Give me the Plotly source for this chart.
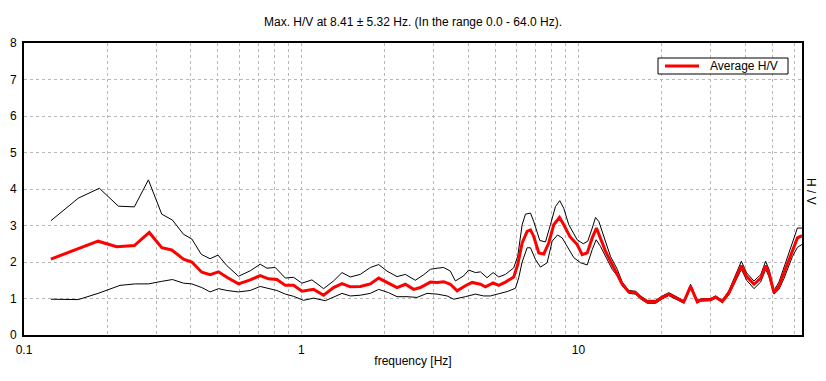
import plotly.graph_objects as go

# ---------------- data ----------------
freq_avg = [0.125, 0.185, 0.216, 0.250, 0.283, 0.314, 0.341, 0.376, 0.403, 0.438,
            0.469, 0.503, 0.539, 0.594, 0.655, 0.711, 0.762, 0.817, 0.876, 0.938,
            1.006, 1.108, 1.204, 1.308, 1.403, 1.503, 1.633, 1.775, 1.902, 2.039,
            2.216, 2.374, 2.543, 2.689, 2.923, 3.090, 3.264, 3.451, 3.649, 3.909,
            4.133, 4.429, 4.617, 4.922, 5.156, 5.452, 5.840, 6.038, 6.263, 6.528,
            6.711, 6.897, 7.191, 7.496, 7.811, 8.141, 8.539, 8.850, 9.304, 9.892,
            10.31, 10.75, 11.21, 11.61, 12.07, 12.51, 13.05, 13.60, 14.38, 15.19,
            16.06, 16.74, 17.70, 18.97, 20.05, 21.18, 22.39, 23.99, 25.37, 26.82,
            27.56, 29.96, 31.23, 33.02, 34.89, 36.89, 38.68, 40.42, 42.95, 45.39,
            47.33, 48.64, 50.71, 52.86, 55.11, 59.10, 61.60, 64.0]
hv_avg = [2.08, 2.57, 2.42, 2.45, 2.81, 2.39, 2.33, 2.08, 2.00, 1.72,
          1.65, 1.73, 1.58, 1.40, 1.51, 1.63, 1.54, 1.52, 1.36, 1.36,
          1.20, 1.25, 1.09, 1.30, 1.41, 1.32, 1.33, 1.40, 1.56, 1.44,
          1.30, 1.39, 1.25, 1.30, 1.45, 1.44, 1.46, 1.39, 1.21, 1.35,
          1.44, 1.39, 1.32, 1.43, 1.36, 1.45, 1.59, 1.93, 2.52, 2.84,
          2.88, 2.70, 2.25, 2.22, 2.52, 3.02, 3.22, 3.02, 2.70, 2.48,
          2.20, 2.25, 2.66, 2.93, 2.61, 2.30, 2.02, 1.75, 1.39, 1.18,
          1.16, 1.03, 0.91, 0.91, 1.03, 1.12, 1.03, 0.91, 1.33, 0.91,
          0.96, 0.97, 1.04, 0.92, 1.16, 1.57, 1.90, 1.60, 1.39, 1.55,
          1.90, 1.70, 1.16, 1.34, 1.71, 2.34, 2.66, 2.72]

freq_upper = [0.125, 0.157, 0.187, 0.219, 0.250, 0.281, 0.314, 0.343, 0.376, 0.403,
              0.436, 0.469, 0.501, 0.539, 0.594, 0.655, 0.711, 0.752, 0.806, 0.876,
              0.938, 1.006, 1.093, 1.204, 1.308, 1.403, 1.503, 1.633, 1.775, 1.902,
              2.039, 2.216, 2.374, 2.579, 2.764, 2.923, 3.090, 3.264, 3.451, 3.597,
              3.854, 4.018, 4.248, 4.429, 4.681, 4.922, 5.156, 5.452, 5.840, 6.038,
              6.263, 6.437, 6.711, 6.897, 7.251, 7.603, 7.921, 8.260, 8.561, 8.850,
              9.226, 9.892, 10.40, 10.80, 11.21, 11.52, 11.84, 12.34, 13.05, 13.80,
              14.38, 15.19, 16.06, 16.74, 17.70, 18.97, 20.05, 21.18, 22.39, 23.99,
              25.37, 26.82, 27.56, 29.96, 31.23, 33.02, 34.89, 36.89, 38.68, 40.42,
              42.95, 45.39, 47.33, 48.64, 50.71, 52.86, 55.11, 59.10, 61.60, 64.0]
hv_upper = [3.13, 3.75, 4.02, 3.53, 3.51, 4.25, 3.31, 3.15, 2.76, 2.63,
            2.21, 2.09, 2.19, 1.90, 1.61, 1.76, 1.94, 1.83, 1.85, 1.56,
            1.58, 1.42, 1.51, 1.27, 1.48, 1.71, 1.59, 1.66, 1.85, 1.93,
            1.75, 1.60, 1.66, 1.50, 1.65, 1.80, 1.83, 1.85, 1.75, 1.48,
            1.62, 1.78, 1.71, 1.73, 1.57, 1.71, 1.59, 1.66, 1.84, 2.16,
            3.02, 3.31, 3.34, 3.11, 2.59, 2.55, 3.02, 3.52, 3.68, 3.47,
            3.02, 2.61, 2.50, 2.57, 2.93, 3.22, 3.11, 2.70, 2.15, 1.80,
            1.45, 1.22, 1.20, 1.07, 0.95, 0.95, 1.07, 1.16, 1.06, 0.94,
            1.39, 0.94, 0.99, 1.00, 1.07, 0.95, 1.22, 1.68, 2.02, 1.70,
            1.48, 1.65, 2.02, 1.80, 1.22, 1.45, 1.85, 2.55, 2.93, 2.93]

freq_lower = [0.125, 0.138, 0.157, 0.185, 0.222, 0.252, 0.281, 0.314, 0.343, 0.376,
              0.403, 0.438, 0.469, 0.503, 0.539, 0.594, 0.655, 0.711, 0.762, 0.817,
              0.876, 0.938, 1.019, 1.108, 1.221, 1.327, 1.403, 1.503, 1.633, 1.775,
              1.902, 2.066, 2.216, 2.407, 2.616, 2.843, 3.090, 3.357, 3.547, 3.909,
              4.248, 4.552, 4.812, 5.156, 5.529, 5.924, 6.088, 6.263, 6.528, 6.711,
              6.996, 7.293, 7.709, 8.035, 8.398, 8.734, 9.104, 9.616, 10.17, 10.75,
              11.21, 11.58, 12.00, 12.51, 13.23, 13.80, 14.38, 15.19, 16.06, 16.74,
              17.70, 18.97, 20.05, 21.18, 22.39, 23.99, 25.37, 26.82, 27.56, 29.96,
              31.23, 33.02, 34.89, 36.89, 38.68, 40.42, 42.95, 45.39, 47.33, 48.64,
              50.71, 52.86, 55.11, 59.10, 61.60, 64.0]
hv_lower = [0.98, 0.97, 0.97, 1.14, 1.36, 1.40, 1.40, 1.47, 1.52, 1.42,
            1.40, 1.30, 1.18, 1.27, 1.22, 1.18, 1.22, 1.33, 1.27, 1.22,
            1.12, 1.06, 0.95, 1.01, 0.94, 1.07, 1.14, 1.07, 1.09, 1.14,
            1.25, 1.16, 1.05, 1.05, 1.03, 1.14, 1.12, 1.07, 0.98, 1.05,
            1.12, 1.07, 1.07, 1.13, 1.19, 1.28, 1.57, 2.00, 2.39, 2.39,
            2.07, 1.86, 1.98, 2.57, 2.74, 2.66, 2.43, 2.12, 1.98, 1.92,
            2.34, 2.61, 2.43, 2.16, 1.80, 1.62, 1.35, 1.14, 1.12, 0.99,
            0.87, 0.87, 0.99, 1.08, 0.99, 0.87, 1.28, 0.88, 0.93, 0.94,
            1.01, 0.89, 1.10, 1.48, 1.80, 1.50, 1.27, 1.45, 1.80, 1.60,
            1.12, 1.25, 1.55, 2.15, 2.40, 2.48]

x_grid = [0.1, 0.2, 0.3, 0.4, 0.5, 0.6, 0.7, 0.8, 0.9,
          1, 2, 3, 4, 5, 6, 7, 8, 9,
          10, 20, 30, 40, 50, 60]
x_labels = ["0.1", "", "", "", "", "", "", "", "",
            "1", "", "", "", "", "", "", "", "",
            "10", "", "", "", "", ""]
y_ticks = [0, 1, 2, 3, 4, 5, 6, 7, 8]

title_text = "Max. H/V at 8.41 \u00b1 5.32 Hz. (In the range 0.0 - 64.0 Hz)."
legend_label = "Average H/V"

FONT = "Liberation Sans, Arial, sans-serif"
W, H = 826, 381
ML, MR, MT, MB = 24, 24, 43, 46
PW, PH = W - ML - MR, H - MT - MB


def px_x(p):
    """pixel column -> paper x (for the legend box only)"""
    return (p - ML) / PW


def px_y(p):
    """pixel row -> paper y (for the legend box only)"""
    return 1 - (p - MT) / PH


fig = go.Figure()
fig.add_trace(go.Scatter(x=freq_upper, y=hv_upper, mode="lines",
                         line=dict(color="black", width=1), showlegend=False,
                         hoverinfo="skip"))
fig.add_trace(go.Scatter(x=freq_lower, y=hv_lower, mode="lines",
                         line=dict(color="black", width=1), showlegend=False,
                         hoverinfo="skip"))
fig.add_trace(go.Scatter(x=freq_avg, y=hv_avg, mode="lines", name=legend_label,
                         line=dict(color="#ff0000", width=3), showlegend=False))

# legend drawn as a compact box (like the original software)
shapes = [
    dict(type="rect", xref="paper", yref="paper",
         x0=px_x(658), x1=px_x(788), y0=px_y(74), y1=px_y(58),
         line=dict(color="black", width=1), fillcolor="white", layer="above"),
    dict(type="line", xref="paper", yref="paper",
         x0=px_x(665), x1=px_x(699), y0=px_y(66), y1=px_y(66),
         line=dict(color="#ff0000", width=3), layer="above"),
]
annotations = [
    dict(text=legend_label, xref="paper", yref="paper", x=px_x(708), y=px_y(66),
         xanchor="left", yanchor="middle", showarrow=False,
         font=dict(family=FONT, size=12, color="black")),
    dict(text="H / V", xref="paper", yref="paper", x=1.0, y=px_y(191),
         xshift=9, showarrow=False, textangle=90, xanchor="center", yanchor="middle",
         font=dict(family=FONT, size=12, color="black")),
]

fig.update_layout(
    width=W, height=H,
    margin=dict(l=ML, r=MR, t=MT, b=MB, autoexpand=False),
    paper_bgcolor="white", plot_bgcolor="white",
    font=dict(family=FONT, size=12, color="black"),
    title=dict(text=title_text, x=0.5, xanchor="center", xref="container",
               y=1 - 22 / H, yanchor="middle", yref="container",
               font=dict(family=FONT, size=12, color="black")),
    showlegend=False,
    xaxis=dict(type="log", range=[-1, 1.80618],
               tickmode="array", tickvals=x_grid, ticktext=x_labels,
               showgrid=True, gridcolor="#b8b8b8", griddash="3px,3px", gridwidth=1,
               showline=True, linecolor="black", linewidth=2, mirror=True,
               ticks="", ticklen=0, ticklabelstandoff=3, zeroline=False,
               tickfont=dict(family=FONT, size=12, color="black"),
               title=dict(text="frequency [Hz]", standoff=0,
                          font=dict(family=FONT, size=12, color="black"))),
    yaxis=dict(range=[0, 8], tickmode="array", tickvals=y_ticks,
               showgrid=True, gridcolor="#b8b8b8", griddash="3px,3px", gridwidth=1,
               showline=True, linecolor="black", linewidth=2, mirror=True,
               ticks="", ticklen=0, ticklabelstandoff=3, zeroline=False,
               tickfont=dict(family=FONT, size=12, color="black")),
    shapes=shapes,
    annotations=annotations,
)

fig.write_html("out.html",
               config={"displayModeBar": False},
               post_script="document.body.style.margin='0px';"
                           "document.body.style.padding='0px';")
